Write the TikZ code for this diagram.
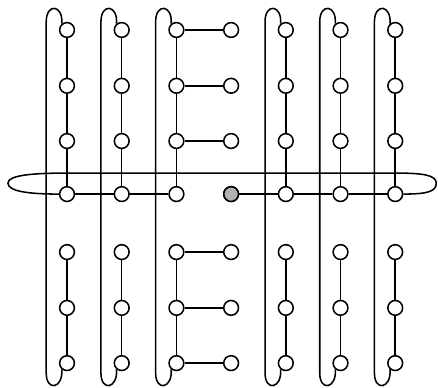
\documentclass[tikz,border=0pt]{standalone}

\begin{document}
\begin{tikzpicture}[
    site/.style={draw, circle, fill=white, minimum size=0.27cm, inner sep=0pt},
    hole/.style={site, fill=gray!60},
    line width=0.8pt
]
\useasboundingbox (-1.225,0.548) rectangle (6.782,-6.527);
% sites
\foreach \c in {0,...,6}
  \foreach \y [count=\r from 0] in {0,-1.02,-2.03,-3,-4.06,-5.08,-6.09}
    \node[site] (v\c-\r) at (\c,\y) {};
\node[hole] (v3-3) at (3,-3) {};
% chains and hairpin loops
\foreach \c in {0,1,2,4,5,6} {
  \draw (v\c-0) -- (v\c-1) -- (v\c-2) -- (v\c-3);
  \draw (v\c-4) -- (v\c-5) -- (v\c-6);
  \draw (v\c-0.130) .. controls +(0.03,0.35) and +(0,0.35) .. ([shift={(-0.38,0.15)}]v\c-0.center)
    -- ([shift={(-0.38,-0.18)}]v\c-6.center) .. controls +(0,-0.35) and +(0.03,-0.35) .. (v\c-6.230);
}
% branches
\foreach \r in {0,1,2,4,5,6}
  \draw (v2-\r) -- (v3-\r);
\draw (v0-3) -- (v1-3) -- (v2-3);
\draw (v3-3) -- (v4-3) -- (v5-3) -- (v6-3);
% horizontal loop
\draw (v0-3.west) .. controls +(-0.55,0) and +(0,-0.15) .. ([shift={(-1.08,0.2)}]v0-3.center)
  .. controls +(0,0.15) and +(-0.6,0) .. ([shift={(0,0.384)}]v0-3.center)
  -- ([shift={(0,0.384)}]v6-3.center) .. controls +(0.5,0) and +(0,0.15) .. ([shift={(0.75,0.2)}]v6-3.center)
  .. controls +(0,-0.15) and +(0.45,0) .. (v6-3.east);
\end{tikzpicture}
\end{document}
